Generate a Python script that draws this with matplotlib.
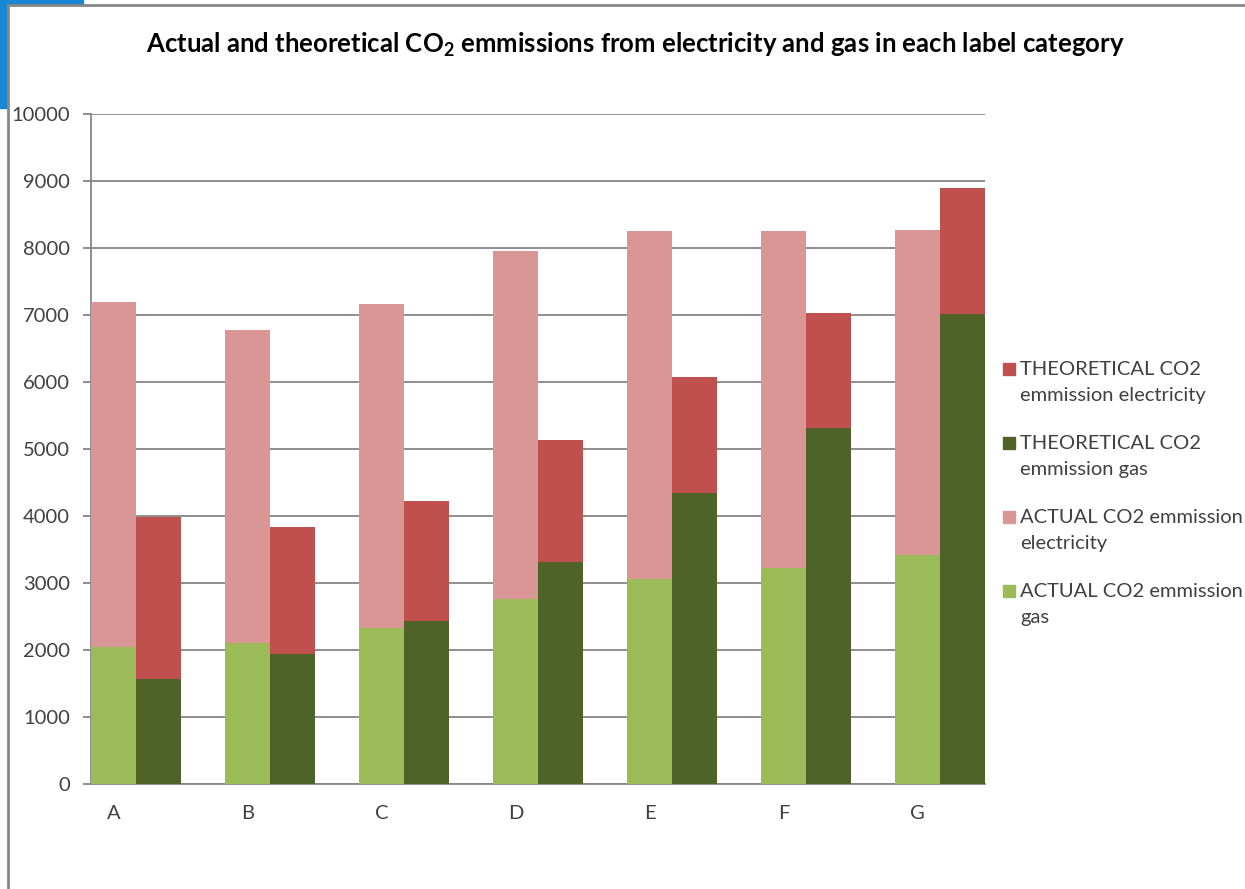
import numpy as np
import matplotlib
matplotlib.use('Agg')
from matplotlib import pyplot
from matplotlib.lines import Line2D

pyplot.rcParams['font.family'] = ['Lato', 'DejaVu Sans']
pyplot.rcParams['mathtext.fontset'] = 'custom'
pyplot.rcParams['mathtext.rm'] = 'Lato'
pyplot.rcParams['mathtext.bf'] = 'Lato:bold'

categories = ['A', 'B', 'C', 'D', 'E', 'F', 'G']
actual_gas = [2050, 2100, 2330, 2760, 3060, 3230, 3420]
actual_elec = [5150, 4680, 4840, 5190, 5200, 5020, 4850]
theo_gas = [1570, 1940, 2430, 3320, 4340, 5310, 7010]
theo_elec = [2420, 1900, 1790, 1810, 1730, 1720, 1890]

Colors = {'actual_gas': '#9BBB59', 'actual_elec': '#D99694',
          'theo_gas': '#4F6228', 'theo_elec': '#C0504D'}
Grey = '#868686'
TextColor = '#404040'
W, H = 1245., 889.

fig = pyplot.figure(figsize=(W / 100, H / 100), dpi=100)
ax = fig.add_axes([91 / W, 1 - 784 / H, 894 / W, 670 / H])

x = np.arange(len(categories))
w = 0.336
ax.bar(x - w / 2, actual_gas, w, color=Colors['actual_gas'], zorder=3)
ax.bar(x - w / 2, actual_elec, w, bottom=actual_gas, color=Colors['actual_elec'], zorder=3)
ax.bar(x + w / 2, theo_gas, w, color=Colors['theo_gas'], zorder=3)
ax.bar(x + w / 2, theo_elec, w, bottom=theo_gas, color=Colors['theo_elec'], zorder=3)

ax.set_xlim(-w, len(categories) - 1 + w)
ax.set_ylim(0, 10000)
ax.set_yticks(np.arange(0, 10001, 1000))
ax.set_xticks(x - w / 2)
ax.set_xticklabels(categories)
ax.yaxis.grid(True, color=Grey, linewidth=1.3, zorder=0)
ax.set_axisbelow(True)
for side in ('top', 'right'):
  ax.spines[side].set_visible(False)
for side in ('left', 'bottom'):
  ax.spines[side].set_color(Grey)
  ax.spines[side].set_linewidth(1.3)
ax.tick_params(axis='y', direction='out', length=6, width=1.3, color=Grey,
               labelsize=14.5, labelcolor=TextColor, pad=9)
ax.tick_params(axis='x', length=0, labelsize=14.5, labelcolor=TextColor, pad=15)

fig.text(635 / W, 1 - 45 / H,
         r'Actual and theoretical CO$_\mathbf{2}$ emmissions from electricity and gas in each label category',
         ha='center', va='center', fontsize=18.5, fontweight='bold', color='black')

# Legend, top entry first.
legend_colors = [Colors['theo_elec'], Colors['theo_gas'], Colors['actual_elec'], Colors['actual_gas']]
legend_labels = ['THEORETICAL CO2\nemmission electricity', 'THEORETICAL CO2\nemmission gas',
                 'ACTUAL CO2 emmission\nelectricity', 'ACTUAL CO2 emmission\ngas']
for i, (c, label) in enumerate(zip(legend_colors, legend_labels)):
  y0 = 369 + 74 * i
  fig.add_artist(pyplot.Rectangle((1003 / W, 1 - (y0 + 6) / H), 12 / W, 12 / H, color=c,
                                  transform=fig.transFigure))
  fig.text(1020 / W, 1 - (y0 + 13.5) / H, label, ha='left', va='center', fontsize=14.5,
           color=TextColor, linespacing=1.65)

# Window frame around the chart.
fig.add_artist(Line2D([8 / W, 8 / W], [0, 1 - 5 / H], color=Grey, linewidth=2,
                      transform=fig.transFigure))
fig.add_artist(Line2D([8 / W, 1], [1 - 5 / H, 1 - 5 / H], color=Grey, linewidth=2,
                      transform=fig.transFigure))
fig.add_artist(pyplot.Rectangle((0, 1 - 108 / H), 7 / W, 108 / H, color='#1A86D6',
                                transform=fig.transFigure))
fig.add_artist(pyplot.Rectangle((0, 1 - 4 / H), 83 / W, 4 / H, color='#1A86D6',
                                transform=fig.transFigure))

fig.savefig('out.png', dpi=100)
